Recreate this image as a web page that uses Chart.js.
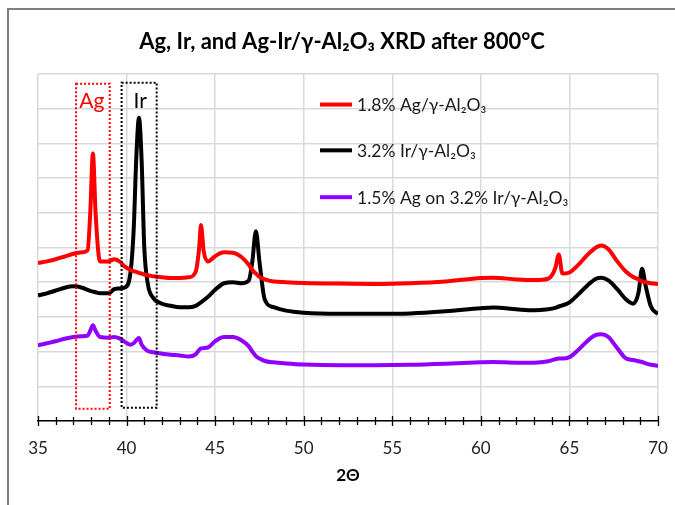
<!DOCTYPE html>
<html>
<head>
<meta charset="utf-8">
<script src="https://cdn.jsdelivr.net/npm/chart.js@4.4.1/dist/chart.umd.min.js"></script>
<style>
  body { margin: 0; background: #fff; }
  #wrap { width: 675px; height: 505px; position: relative; }
</style>
</head>
<body>
<div id="wrap"><canvas id="xrdChart"></canvas></div>
<script>
// 2-theta sample positions (shared by all three patterns)
const twoTheta = [35, 35.5, 36, 36.5, 37, 37.5, 37.8, 37.95, 38.1, 38.25, 38.5, 39, 39.3, 39.6, 39.9,
  40.2, 40.4, 40.55, 40.7, 40.85, 41.0, 41.2, 41.5, 42, 42.5, 43, 43.5, 43.9, 44.1, 44.2, 44.35,
  44.6, 45, 45.5, 46, 46.5, 46.9, 47.1, 47.3, 47.5, 47.8, 48.3, 49, 50, 52, 54, 56, 58, 60, 60.7,
  62, 63, 63.8, 64.2, 64.4, 64.6, 65, 65.5, 66, 66.5, 66.8, 67.2, 67.7, 68.2, 68.6, 68.9, 69.1,
  69.3, 69.6, 70];

// Intensities (arbitrary units, offset for stacking)
const agAlumina = [4.55, 4.6, 4.66, 4.74, 4.82, 4.86, 4.92, 6.0, 7.71, 6.0, 4.6, 4.6, 4.66, 4.6, 4.45,
  4.36, 4.32, 4.3, 4.27, 4.25, 4.22, 4.2, 4.17, 4.14, 4.12, 4.12, 4.14, 4.3, 5.0, 5.65, 4.9,
  4.6, 4.75, 4.86, 4.85, 4.72, 4.5, 4.35, 4.25, 4.15, 4.08, 4.02, 4.0, 3.98, 3.96, 3.95, 3.97, 4.02, 4.12, 4.13,
  4.08, 4.06, 4.1, 4.4, 4.8, 4.25, 4.28, 4.5, 4.78, 5.0, 5.06, 4.95, 4.6, 4.3, 4.15, 4.08, 4.02,
  4.0, 3.97, 3.95];

const irAlumina = [3.62, 3.68, 3.76, 3.84, 3.88, 3.84, 3.78, 3.75, 3.73, 3.71, 3.68, 3.68, 3.8, 3.82, 3.85,
  4.2, 5.5, 7.6, 8.74, 7.5, 5.0, 3.95, 3.55, 3.38, 3.32, 3.28, 3.28, 3.32, 3.38, 3.42, 3.48,
  3.58, 3.78, 3.97, 4.0, 3.97, 4.05, 4.6, 5.47, 4.6, 3.5, 3.28, 3.18, 3.12, 3.09, 3.09, 3.1, 3.16, 3.25, 3.27,
  3.22, 3.19, 3.22, 3.26, 3.3, 3.33, 3.42, 3.65, 3.9, 4.1, 4.13, 4.05, 3.8, 3.5, 3.38, 3.7, 4.39,
  3.9, 3.3, 3.08];

const agOnIr = [2.18, 2.24, 2.3, 2.37, 2.42, 2.44, 2.46, 2.6, 2.76, 2.6, 2.42, 2.4, 2.42, 2.38, 2.28,
  2.2, 2.24, 2.33, 2.39, 2.2, 2.1, 2.02, 1.98, 1.94, 1.91, 1.89, 1.86, 1.92, 2.05, 2.09, 2.1,
  2.12, 2.3, 2.42, 2.42, 2.32, 2.15, 2.0, 1.87, 1.8, 1.73, 1.69, 1.66, 1.63, 1.61, 1.61, 1.62, 1.65, 1.69, 1.7,
  1.68, 1.68, 1.72, 1.78, 1.8, 1.8, 1.84, 2.05, 2.3, 2.48, 2.5, 2.42, 2.1, 1.8, 1.76, 1.72, 1.7,
  1.66, 1.62, 1.59];

const seriesLabels = ["1.8% Ag/γ-Al₂O₃", "3.2% Ir/γ-Al₂O₃", "1.5% Ag on 3.2% Ir/γ-Al₂O₃"];
const seriesColors = ["#ff0000", "#000000", "#8f00ff"];

// Highlighted reflection windows (2-theta range) and their labels
const peakLabels = ["Ag", "Ir"];
const peakRanges = [[37.15, 39.05], [39.72, 41.7]];
const peakColors = ["#ff0000", "#000000"];

const xTickStep = 1;
const xLabelStep = 5;

const FONT = "Lato, 'Open Sans', sans-serif";

function toPoints(ys) {
  return ys.map((y, i) => ({ x: twoTheta[i], y: y }));
}

// Custom drawing: outer frame, title, peak boxes, legend, crossing ticks
const decorPlugin = {
  id: "decor",
  beforeDraw(chart) {
    const c = chart.ctx;
    c.save();
    c.fillStyle = "#fff";
    c.fillRect(0, 0, chart.width, chart.height);
    c.restore();
  },
  afterDraw(chart) {
    const c = chart.ctx;
    const xs = chart.scales.x;
    const ys = chart.scales.y;
    const area = chart.chartArea;
    c.save();

    // frame
    c.strokeStyle = "#7f7f7f";
    c.lineWidth = 2;
    c.strokeRect(8, 9, chart.width + 20, chart.height + 20);

    // title
    c.fillStyle = "#000";
    c.font = "bold 22px " + FONT;
    c.textAlign = "center";
    c.textBaseline = "middle";
    c.fillText("Ag, Ir, and Ag-Ir/γ-Al₂O₃ XRD after 800°C", 342, 42);

    // x axis title
    c.font = "bold 17px " + FONT;
    c.fillText("2Θ", (area.left + area.right) / 2, 476);

    // crossing tick marks
    c.strokeStyle = "#000";
    c.lineWidth = 1.3;
    for (let v = xs.min; v <= xs.max; v += xTickStep) {
      const px = Math.round(xs.getPixelForValue(v)) + 0.5;
      const len = v % xLabelStep === 0 ? 5 : 4;
      c.beginPath();
      c.moveTo(px, area.bottom - len);
      c.lineTo(px, area.bottom + len);
      c.stroke();
    }

    // peak windows
    c.lineWidth = 2;
    c.setLineDash([2, 2]);
    const boxTop = ys.getPixelForValue(9.75);
    const boxBottom = ys.getPixelForValue(0.38);
    peakRanges.forEach((r, i) => {
      const x0 = xs.getPixelForValue(r[0]);
      const x1 = xs.getPixelForValue(r[1]);
      c.strokeStyle = peakColors[i];
      c.strokeRect(x0, boxTop + (i === 0 ? 1 : 0), x1 - x0, boxBottom - boxTop);
      c.fillStyle = peakColors[i];
      c.font = "21px " + FONT;
      c.fillText(peakLabels[i], (x0 + x1) / 2 + (i === 0 ? -1 : 1), 101);
    });
    c.setLineDash([]);

    // legend
    c.textAlign = "left";
    c.font = "17.5px " + FONT;
    const rows = [9.12, 7.8, 6.45];
    chart.data.datasets.forEach((ds, i) => {
      const y = ys.getPixelForValue(rows[i]);
      c.strokeStyle = ds.borderColor;
      c.lineWidth = 4;
      c.beginPath();
      c.moveTo(320, y);
      c.lineTo(352, y);
      c.stroke();
      c.fillStyle = "#1a1a1a";
      c.fillText(ds.label, 357, y + 1);
    });

    c.restore();
  },
};

const ctx = document.getElementById("xrdChart").getContext("2d");
new Chart(ctx, {
  type: "line",
  data: {
    datasets: [agAlumina, irAlumina, agOnIr].map((ys, i) => ({
      label: seriesLabels[i],
      data: toPoints(ys),
      borderColor: seriesColors[i],
      borderWidth: 4,
      pointRadius: 0,
      cubicInterpolationMode: "monotone",
      fill: false,
    })),
  },
  options: {
    responsive: true,
    maintainAspectRatio: false,
    animation: false,
    events: [],
    layout: { padding: { left: 0, right: 17, top: 74, bottom: 0 } },
    plugins: {
      legend: { display: false },
      title: { display: false },
      tooltip: { enabled: false },
    },
    scales: {
      x: {
        type: "linear",
        min: 35,
        max: 70,
        afterFit: (scale) => {
          scale.height = 84;
          scale.paddingLeft = 0;
          scale.paddingRight = 0;
        },
        ticks: {
          stepSize: xTickStep,
          autoSkip: false,
          maxRotation: 0,
          padding: 17,
          color: "#222",
          font: { family: FONT, size: 17 },
          callback: (v) => (v % xLabelStep === 0 ? v : ""),
        },
        grid: {
          drawTicks: false,
          lineWidth: 1.5,
          color: (c) => (c.tick && c.tick.value % xLabelStep === 0 ? "#d9d9d9" : "rgba(0,0,0,0)"),
        },
        border: { display: true, color: "#000", width: 1.5 },
      },
      y: {
        min: 0,
        max: 10,
        afterFit: (scale) => { scale.width = 38; },
        ticks: { stepSize: 1, display: false },
        grid: { drawTicks: false, lineWidth: 1.5, color: "#d9d9d9" },
        border: { display: false },
      },
    },
  },
  plugins: [decorPlugin],
});
</script>
</body>
</html>
